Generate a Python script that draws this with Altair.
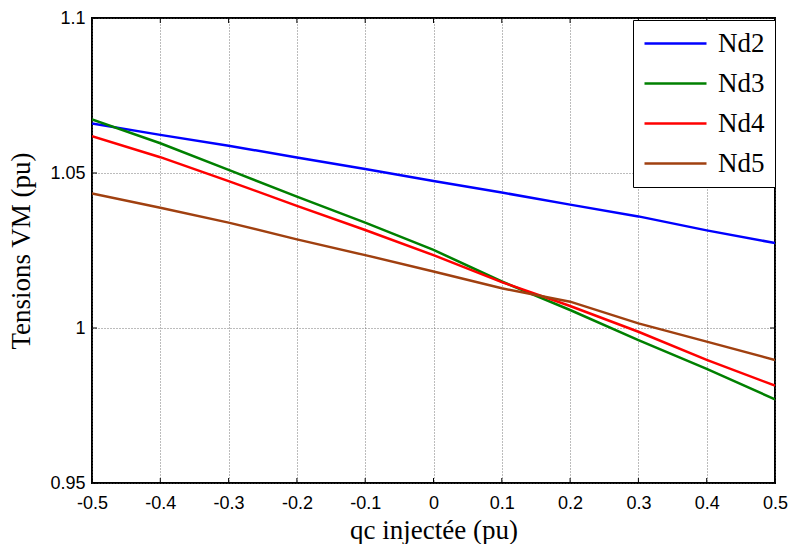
import altair as alt
import pandas as pd

q = [-0.5, -0.4, -0.3, -0.2, -0.1, 0.0, 0.1, 0.2, 0.3, 0.4, 0.5]
nd2 = [1.0660, 1.0623, 1.0588, 1.0550, 1.0513, 1.0474, 1.0437, 1.0398, 1.0360, 1.0315, 1.0274]
nd3 = [1.0673, 1.0596, 1.0510, 1.0424, 1.0340, 1.0252, 1.0150, 1.0058, 0.9961, 0.9868, 0.9770]
nd4 = [1.0619, 1.0551, 1.0474, 1.0394, 1.0316, 1.0235, 1.0148, 1.0071, 0.9988, 0.9897, 0.9814]
nd5 = [1.0434, 1.0388, 1.0340, 1.0286, 1.0235, 1.0182, 1.0128, 1.0085, 1.0015, 0.9956, 0.9897]
series_names = ["Nd2", "Nd3", "Nd4", "Nd5"]
series_colors = ["#0000FF", "#008000", "#FF0000", "#A04010"]
x_ticks = [-0.5, -0.4, -0.3, -0.2, -0.1, 0.0, 0.1, 0.2, 0.3, 0.4, 0.5]
y_ticks = [0.95, 1.0, 1.05, 1.1]

rows = []
for name, vals in zip(series_names, [nd2, nd3, nd4, nd5]):
    for xv, yv in zip(q, vals):
        rows.append({"q": xv, "v": yv, "s": name})
df = pd.DataFrame(rows)

W, H = 683, 465
xs = alt.Scale(domain=[-0.5, 0.5], nice=False, zero=False)
ys = alt.Scale(domain=[0.95, 1.1], nice=False, zero=False)
fix_minus = "replace(datum.label, '\u2212', '-')"

lines = alt.Chart(df).mark_line(strokeWidth=2.5, clip=True).encode(
    x=alt.X("q:Q", scale=xs, axis=alt.Axis(
        values=x_ticks, format="~g", labelExpr=fix_minus, title="qc injectée (pu)",
        grid=True, gridColor="#555555", gridDash=[1, 2], gridWidth=0.8,
        domain=False, ticks=False, labelPadding=11, labelFlush=False,
        labelFont="Liberation Sans", labelFontSize=18, labelColor="black",
        titleFont="Liberation Serif", titleFontSize=27, titleFontWeight="normal",
        titleColor="black", titlePadding=5)),
    y=alt.Y("v:Q", scale=ys, axis=alt.Axis(
        values=y_ticks, format="~g", labelExpr=fix_minus, title="Tensions VM (pu)",
        grid=True, gridColor="#555555", gridDash=[1, 2], gridWidth=0.8,
        domain=False, ticks=False, labelPadding=7, labelFlush=False,
        labelFont="Liberation Sans", labelFontSize=18, labelColor="black",
        titleFont="Liberation Serif", titleFontSize=27, titleFontWeight="normal",
        titleColor="black", titlePadding=14)),
    color=alt.Color("s:N", scale=alt.Scale(domain=series_names, range=series_colors),
                    legend=alt.Legend(
                        title=None, orient="none", legendX=541, legendY=2,
                        symbolType="stroke", symbolStrokeWidth=2.5, symbolSize=3844,
                        labelFont="Liberation Serif", labelFontSize=27, labelColor="black",
                        labelOffset=10, rowPadding=12, clipHeight=27, padding=10,
                        strokeColor="black", fillColor="white")),
)

xt = pd.DataFrame({"t": x_ticks})
yt = pd.DataFrame({"t": y_ticks})
tick_style = dict(color="black", strokeWidth=1)
xb = alt.Chart(xt).mark_rule(**tick_style).encode(x=alt.X("t:Q", scale=xs), y=alt.value(H), y2=alt.value(H - 5))
xtop = alt.Chart(xt).mark_rule(**tick_style).encode(x=alt.X("t:Q", scale=xs), y=alt.value(0), y2=alt.value(5))
yl = alt.Chart(yt).mark_rule(**tick_style).encode(y=alt.Y("t:Q", scale=ys), x=alt.value(0), x2=alt.value(5))
yr = alt.Chart(yt).mark_rule(**tick_style).encode(y=alt.Y("t:Q", scale=ys), x=alt.value(W), x2=alt.value(W - 5))

chart = alt.layer(xb, xtop, yl, yr, lines).properties(
    width=W, height=H,
    autosize=alt.AutoSizeParams(type="none"),
    padding={"left": 92, "top": 18, "right": 17, "bottom": 61},
    background="white",
).configure_view(stroke="black", strokeWidth=2)

chart.save("out.html", embed_options={"renderer": "svg", "actions": False})
